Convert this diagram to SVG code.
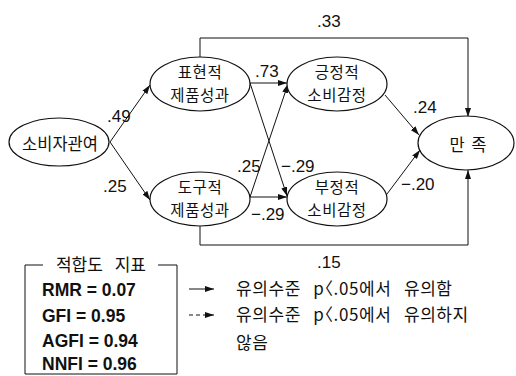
<svg xmlns="http://www.w3.org/2000/svg" width="516" height="376" viewBox="0 0 516 376">
<defs>
<marker id="ah" markerUnits="userSpaceOnUse" markerWidth="9" markerHeight="6" refX="9" refY="3" orient="auto">
<path d="M0,0 L9,3 L0,6 z" fill="#111"/>
</marker>
<style>
.node ellipse{fill:#fff;stroke:#111;stroke-width:1.2}
.kr{font-family:"Noto Sans CJK KR","Noto Sans",sans-serif;font-size:16.5px;fill:#111;text-anchor:middle}
.kr2{font-family:"Noto Sans CJK KR","Noto Sans",sans-serif;font-size:15.5px;letter-spacing:0.6px;fill:#111;text-anchor:middle}
.krl{font-family:"Noto Sans CJK KR","Noto Sans",sans-serif;font-size:17px;fill:#111;word-spacing:8px;letter-spacing:0.6px;font-feature-settings:"halt"}
.num{font-family:"Liberation Sans",Arial,sans-serif;font-size:17px;fill:#111}
.fit{font-family:"Liberation Sans",Arial,sans-serif;font-size:17.5px;font-weight:bold;fill:#111}
.c{fill:none;stroke:#111;stroke-width:1}
.a{marker-end:url(#ah)}
</style>
</defs>
<rect width="516" height="376" fill="#fff"/>
<g id="connectors">
<path class="c a" d="M110,142 L150,85"/>
<path class="c a" d="M110,142 L150,200"/>
<path class="c a" d="M250,83 L287,83"/>
<path class="c a" d="M250,197 L287,197"/>
<path class="c a" d="M250,83 L287,196"/>
<path class="c a" d="M250,197 L288,84"/>
<path class="c a" d="M385,95 L419,135"/>
<path class="c a" d="M384,198 L420,150"/>
<path class="c a" d="M200,57 L200,38 L468,38 L468,117"/>
<path class="c a" d="M200,226 L200,245 L468,245 L468,170"/>
</g>
<g id="labels">
<text class="num" x="107" y="122">.49</text>
<text class="num" x="103" y="192">.25</text>
<text class="num" x="255" y="77">.73</text>
<text class="num" x="237" y="172">.25</text>
<text class="num" x="281" y="172">−.29</text>
<text class="num" x="251" y="220">−.29</text>
<text class="num" x="413" y="113">.24</text>
<text class="num" x="401" y="190">−.20</text>
<text class="num" x="317" y="27">.33</text>
<text class="num" x="317" y="268">.15</text>
</g>
<g id="n_involve" class="node">
<ellipse cx="59" cy="142" rx="50" ry="24"/>
<text class="kr" x="60" y="150">소비자관여</text>
</g>
<g id="n_expressive" class="node">
<ellipse cx="200" cy="84" rx="50" ry="27"/>
<text class="kr2" x="200" y="78">표현적</text>
<text class="kr2" x="200" y="101">제품성과</text>
</g>
<g id="n_instrumental" class="node">
<ellipse cx="200" cy="199" rx="50" ry="27"/>
<text class="kr2" x="200" y="193">도구적</text>
<text class="kr2" x="200" y="216">제품성과</text>
</g>
<g id="n_positive" class="node">
<ellipse cx="337" cy="84" rx="50" ry="27"/>
<text class="kr2" x="337" y="78">긍정적</text>
<text class="kr2" x="337" y="101">소비감정</text>
</g>
<g id="n_negative" class="node">
<ellipse cx="337" cy="199" rx="50" ry="27"/>
<text class="kr2" x="337" y="193">부정적</text>
<text class="kr2" x="337" y="216">소비감정</text>
</g>
<g id="n_satisfaction" class="node">
<ellipse cx="466" cy="143" rx="48" ry="27"/>
<text class="kr" x="468" y="151" style="word-spacing:3px">만 족</text>
</g>
<g id="fit_legend">
<path class="c" d="M43,265 L25,265 L25,374 L177,374 L177,265 L158,265"/>
<text class="kr" x="101" y="271" style="word-spacing:8px;font-size:17px">적합도 지표</text>
<text class="fit" x="42" y="296">RMR = 0.07</text>
<text class="fit" x="42" y="322">GFI = 0.95</text>
<text class="fit" x="42" y="347">AGFI = 0.94</text>
<text class="fit" x="42" y="370">NNFI = 0.96</text>
</g>
<g id="line_legend">
<path class="c a" d="M189,289 L214,289"/>
<path class="c a" d="M189,315 L214,315" stroke-dasharray="4,3"/>
<text class="krl" x="236" y="295">유의수준 p〈.05에서 유의함</text>
<text class="krl" x="236" y="321">유의수준 p〈.05에서 유의하지</text>
<text class="krl" x="236" y="349">않음</text>
</g>
</svg>
